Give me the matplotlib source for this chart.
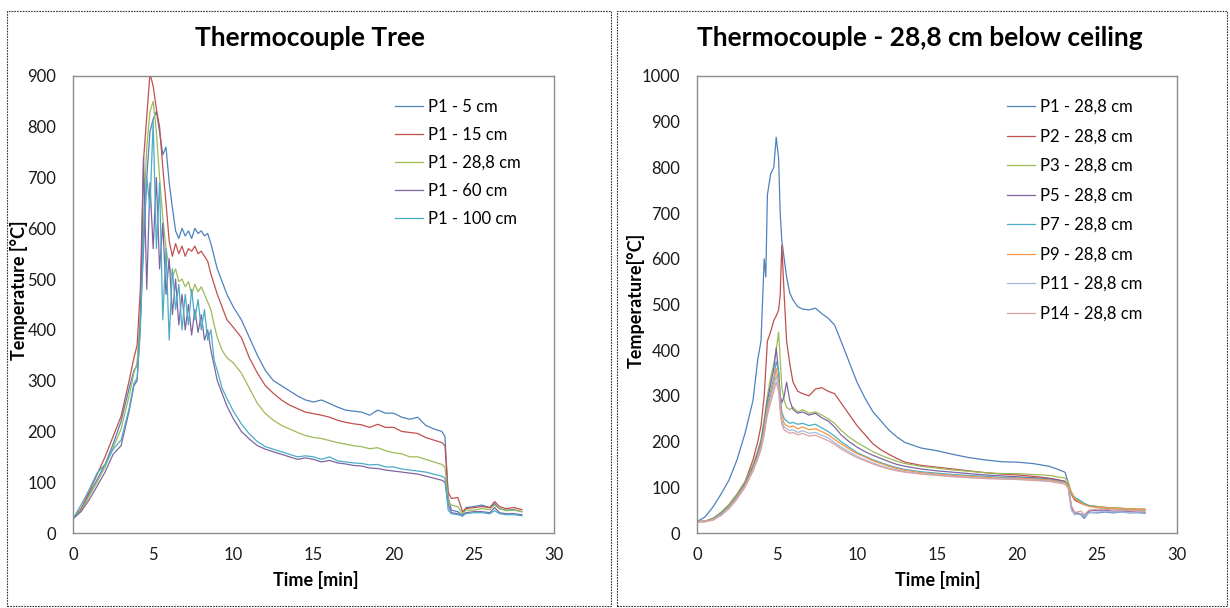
import matplotlib
matplotlib.use('Agg')
import matplotlib.pyplot as plt
from matplotlib.patches import Rectangle

plt.rcParams['font.family'] = ['Lato', 'DejaVu Sans']

# ---- left panel: thermocouple tree (time in min, temperature in degC)
t_tree = [0, 0.5, 1, 1.5, 2, 2.5, 3, 3.5, 3.8,
          4.0, 4.2, 4.4, 4.6, 4.8, 5.0, 5.2, 5.4, 5.6, 5.8, 6.0, 6.2, 6.4, 6.6, 6.8,
          7.0, 7.2, 7.4, 7.6, 7.8, 8.0, 8.2, 8.4, 8.6, 8.8, 9.0, 9.3, 9.6, 10.0,
          10.5, 11, 11.5, 12, 12.5, 13, 13.5, 14, 14.5, 15, 15.5, 16, 16.5, 17,
          17.5, 18, 18.5, 19, 19.5, 20, 20.5, 21, 21.5, 22, 22.5,
          23.0, 23.2, 23.4, 23.6, 24.0, 24.3, 24.5, 25, 25.5, 26, 26.3, 26.6, 27, 27.5, 28]

p1_5cm = [28, 45, 75, 105, 135, 175, 220, 285, 320,
          330, 420, 560, 700, 790, 815, 830, 790, 745, 760, 690, 640, 595, 580, 600,
          585, 595, 580, 600, 590, 595, 585, 590, 570, 545, 520, 495, 470, 445,
          420, 385, 350, 320, 300, 290, 280, 270, 262, 258, 262, 255, 248, 242,
          240, 238, 232, 242, 236, 236, 228, 224, 228, 212, 205,
          200, 190, 70, 45, 42, 35, 50, 52, 55, 50, 58, 48, 45, 46, 42]
p1_15cm = [28, 48, 80, 115, 150, 190, 230, 300, 345,
           370, 480, 735, 820, 905, 880, 835, 800, 720, 650, 575, 545, 570, 550, 565,
           545, 560, 555, 565, 550, 555, 545, 535, 510, 490, 470, 445, 420, 405,
           385, 345, 315, 290, 275, 262, 252, 245, 238, 235, 232, 228, 222, 218,
           215, 213, 208, 214, 208, 208, 200, 198, 196, 188, 183,
           178, 172, 80, 68, 70, 42, 48, 50, 52, 50, 62, 52, 48, 50, 46]
p1_288cm = [28, 45, 72, 100, 130, 168, 205, 270, 315,
            335, 430, 620, 760, 830, 850, 790, 700, 620, 560, 525, 505, 520, 495, 500,
            485, 495, 470, 490, 475, 485, 470, 455, 440, 410, 385, 360, 345, 335,
            315, 285, 255, 235, 222, 212, 205, 198, 192, 188, 186, 182, 178, 175,
            172, 170, 166, 168, 162, 158, 156, 150, 150, 145, 140,
            135, 130, 62, 55, 52, 38, 45, 45, 48, 46, 55, 48, 44, 45, 42]
p1_60cm = [28, 42, 65, 92, 120, 155, 172, 240, 290,
           300, 410, 740, 480, 690, 560, 700, 520, 610, 470, 540, 430, 500, 410, 470,
           400, 450, 390, 440, 395, 430, 380, 400, 360, 330, 300, 275, 250, 225,
           200, 185, 172, 165, 160, 155, 150, 145, 148, 145, 140, 143, 138, 136,
           133, 132, 128, 127, 124, 122, 120, 118, 116, 112, 108,
           104, 100, 55, 40, 38, 33, 40, 42, 42, 40, 50, 40, 38, 38, 36]
p1_100cm = [28, 55, 85, 118, 135, 165, 183, 245, 295,
            305, 400, 590, 700, 640, 810, 560, 690, 420, 560, 380, 520, 440, 490, 400,
            470, 410, 480, 420, 460, 400, 440, 380, 400, 340, 320, 285, 265, 240,
            215, 195, 180, 170, 165, 160, 155, 150, 152, 150, 145, 150, 142, 140,
            138, 137, 134, 135, 130, 130, 126, 124, 122, 120, 116,
            112, 108, 45, 38, 36, 34, 38, 40, 40, 38, 44, 38, 36, 36, 34]

tree_labels = ['P1 - 5 cm', 'P1 - 15 cm', 'P1 - 28,8 cm', 'P1 - 60 cm', 'P1 - 100 cm']
tree_series = [p1_5cm, p1_15cm, p1_288cm, p1_60cm, p1_100cm]
tree_colors = ['#4F81BD', '#C0504D', '#9BBB59', '#8064A2', '#4BACC6']

# ---- right panel: 28,8 cm below ceiling
t_ceil = [0, 0.5, 1, 1.5, 2, 2.5, 3, 3.5, 3.8, 4.0, 4.2, 4.3, 4.4, 4.6, 4.8, 4.95,
          5.1, 5.2, 5.3, 5.45, 5.6, 5.8, 6.0, 6.3, 6.6, 7.0, 7.4, 7.8, 8.2, 8.6,
          9.0, 9.5, 10, 10.5, 11, 11.5, 12, 12.5, 13, 14, 15, 16, 17, 18, 19, 20,
          21, 22, 22.5, 23.0, 23.2, 23.4, 23.6, 24.0, 24.2, 24.5, 25, 25.5, 26,
          26.5, 27, 27.5, 28]

p1 = [25, 35, 57, 85, 116, 160, 218, 290, 380, 420, 600, 560, 740, 785, 800, 866,
      820, 700, 640, 600, 560, 525, 510, 495, 490, 488, 492, 480, 470, 455,
      420, 375, 330, 295, 265, 245, 225, 210, 198, 186, 180, 172, 165, 160, 156, 155,
      152, 146, 140, 133, 110, 55, 42, 40, 32, 45, 44, 46, 44,
      46, 44, 45, 43]
p2 = [25, 26, 32, 45, 62, 85, 112, 160, 200, 235, 300, 360, 420, 440, 465, 475,
      488, 520, 630, 520, 420, 370, 330, 310, 305, 300, 315, 318, 310, 305,
      285, 260, 235, 215, 195, 182, 172, 163, 155, 148, 144, 140, 136, 132, 129, 127,
      124, 120, 117, 113, 105, 85, 72, 65, 62, 60, 58, 56, 55,
      54, 53, 52, 52]
p3 = [25, 26, 32, 45, 62, 85, 112, 150, 180, 205, 250, 275, 300, 340, 370, 400,
      440, 380, 320, 290, 275, 270, 275, 265, 270, 262, 265, 258, 250, 240,
      225, 210, 198, 188, 178, 170, 163, 157, 152, 146, 142, 138, 135, 132, 130, 130,
      128, 126, 123, 120, 112, 90, 78, 68, 64, 60, 58, 56, 55,
      54, 53, 52, 52]
p5 = [25, 25, 30, 42, 58, 80, 108, 145, 175, 200, 240, 265, 290, 325, 360, 405,
      350, 300, 285, 300, 330, 290, 270, 262, 265, 258, 262, 252, 245, 232,
      215, 200, 188, 178, 170, 163, 156, 150, 146, 140, 136, 133, 130, 127, 125, 123,
      121, 119, 116, 113, 100, 55, 45, 42, 38, 48, 50, 50, 48,
      48, 47, 46, 45]
p7 = [25, 25, 30, 42, 58, 80, 106, 142, 170, 195, 232, 255, 280, 310, 340, 375,
      355, 300, 265, 250, 245, 240, 242, 238, 240, 235, 238, 230, 222, 212,
      200, 188, 176, 168, 160, 154, 148, 143, 139, 134, 131, 128, 126, 124, 122, 121,
      119, 117, 114, 111, 105, 85, 78, 70, 65, 60, 56, 54, 53,
      52, 51, 50, 50]
p9 = [25, 25, 29, 40, 56, 78, 104, 140, 168, 190, 225, 250, 272, 300, 330, 360,
      330, 285, 255, 240, 235, 232, 234, 228, 232, 226, 228, 222, 215, 205,
      195, 184, 174, 166, 158, 152, 146, 141, 137, 132, 129, 126, 124, 122, 120, 120,
      118, 116, 113, 110, 104, 88, 75, 66, 62, 58, 56, 55, 54,
      53, 52, 52, 51]
p11 = [25, 25, 29, 40, 55, 76, 102, 138, 165, 186, 220, 245, 265, 292, 320, 345,
       320, 275, 245, 232, 228, 224, 226, 220, 224, 218, 220, 214, 208, 198,
       188, 178, 168, 160, 153, 147, 142, 138, 134, 130, 127, 124, 122, 120, 119, 118,
       116, 114, 111, 108, 98, 50, 40, 42, 36, 44, 46, 47, 46,
       46, 45, 44, 44]
p14 = [25, 25, 28, 38, 53, 74, 100, 135, 162, 182, 215, 238, 258, 285, 310, 330,
       310, 265, 238, 225, 222, 218, 220, 215, 218, 212, 214, 208, 202, 194,
       184, 174, 165, 158, 151, 145, 140, 136, 133, 129, 126, 123, 121, 119, 118, 117,
       115, 113, 110, 107, 100, 60, 45, 48, 40, 50, 52, 52, 50,
       50, 49, 48, 47]

ceil_labels = ['P1 - 28,8 cm', 'P2 - 28,8 cm', 'P3 - 28,8 cm', 'P5 - 28,8 cm',
               'P7 - 28,8 cm', 'P9 - 28,8 cm', 'P11 - 28,8 cm', 'P14 - 28,8 cm']
ceil_series = [p1, p2, p3, p5, p7, p9, p11, p14]
ceil_colors = ['#4F81BD', '#C0504D', '#9BBB59', '#8064A2', '#4BACC6', '#F79646',
               '#A7B9DA', '#DDA0A0']

W, H = 1230, 608
fig = plt.figure(figsize=(W / 100, H / 100), dpi=100)


def fx(px):
    return px / W


def fy(py):
    return 1 - py / H


# dashed frames round each chart
for x0, x1 in [(7, 611), (617, 1227)]:
    fig.patches.append(Rectangle((fx(x0), fy(606)), fx(x1 - x0), (606 - 11) / H,
                                 transform=fig.transFigure, fill=False,
                                 ec='#333333', lw=0.8, ls=(0, (1.5, 1))))

ax1 = fig.add_axes([fx(73), fy(533), fx(554 - 73), (533 - 76) / H])
ax2 = fig.add_axes([fx(697), fy(533), fx(1177 - 697), (533 - 76) / H])

for ys, lab, c in zip(tree_series, tree_labels, tree_colors):
    ax1.plot(t_tree, ys, color=c, lw=0.9, label=lab)
for ys, lab, c in zip(ceil_series, ceil_labels, ceil_colors):
    ax2.plot(t_ceil, ys, color=c, lw=0.9, label=lab)

ax1.set_ylim(0, 900)
ax1.set_yticks(range(0, 901, 100))
ax2.set_ylim(0, 1000)
ax2.set_yticks(range(0, 1001, 100))

for ax in (ax1, ax2):
    ax.set_xlim(0, 30)
    ax.set_xticks(range(0, 31, 5))
    for s in ax.spines.values():
        s.set_color('#8C8C8C')
        s.set_linewidth(1.0)
    ax.tick_params(length=0, labelsize=12, colors='#1a1a1a')
    ax.tick_params(axis='y', pad=12)
    ax.tick_params(axis='x', pad=10)

leg_kw = dict(frameon=False, fontsize=12, handlelength=1.7, handletextpad=0.25,
              borderpad=0, borderaxespad=0, loc='upper left',
              bbox_transform=fig.transFigure)
ax1.legend(bbox_to_anchor=(fx(395), fy(99)), labelspacing=0.72, **leg_kw)
ax2.legend(bbox_to_anchor=(fx(1007), fy(99)), labelspacing=0.81, **leg_kw)

fig.text(fx(310), fy(38), 'Thermocouple Tree', ha='center', va='center',
         fontsize=19, fontweight='bold')
fig.text(fx(920), fy(38), 'Thermocouple - 28,8 cm below ceiling', ha='center',
         va='center', fontsize=19, fontweight='bold')
fig.text(fx(316), fy(580), 'Time [min]', ha='center', va='center',
         fontsize=13, fontweight='bold')
fig.text(fx(938), fy(580), 'Time [min]', ha='center', va='center',
         fontsize=13, fontweight='bold')
fig.text(fx(19), fy(290), 'Temperature [°C]', ha='center', va='center',
         rotation=90, fontsize=13, fontweight='bold')
fig.text(fx(636), fy(300), 'Temperature[°C]', ha='center', va='center',
         rotation=90, fontsize=13, fontweight='bold')

fig.savefig('out.png', dpi=100)
